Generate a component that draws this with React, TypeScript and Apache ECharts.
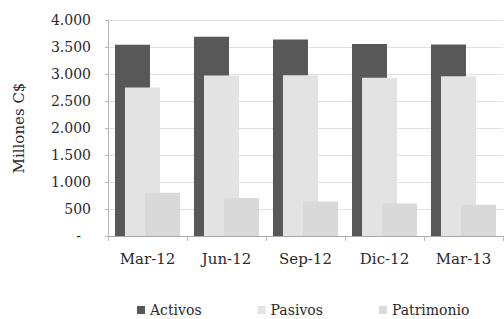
import React, { useEffect, useRef } from "react";
import * as echarts from "echarts";

const categories = ["Mar-12", "Jun-12", "Sep-12", "Dic-12", "Mar-13"];
const activos = [3540, 3690, 3640, 3555, 3545];
const pasivos = [2750, 2970, 2975, 2930, 2960];
const patrimonio = [800, 705, 640, 600, 580];
const yTicks = [0, 500, 1000, 1500, 2000, 2500, 3000, 3500, 4000];

const FONT = "DejaVu Serif";

function fmt(v: number): string {
  if (v === 0) return "{d|-}";
  return v.toString().replace(/\B(?=(\d{3})+(?!\d))/g, ".");
}

export default function App() {
  const ref = useRef<HTMLDivElement>(null);
  useEffect(() => {
    if (!ref.current) return;
    const chart = echarts.init(ref.current, null, { renderer: "svg" });
    chart.setOption({
      animation: false,
      backgroundColor: "#ffffff",
      textStyle: { fontFamily: FONT },
      grid: { left: 108, right: 1, top: 20, bottom: 83, containLabel: false },
      legend: {
        data: ["Activos", "Pasivos", "Patrimonio"],
        left: 137,
        top: 303,
        padding: 0,
        itemWidth: 8,
        itemHeight: 8,
        itemGap: 56,
        icon: "rect",
        textStyle: { fontFamily: FONT, fontSize: 14, color: "#2a2a2a", padding: [0, 0, 0, 0] },
      },
      xAxis: {
        type: "category",
        data: categories,
        axisLine: { show: true, lineStyle: { color: "#aaaaaa", width: 1 } },
        axisTick: { show: true, length: 5, lineStyle: { color: "#bbbbbb" } },
        axisLabel: { fontFamily: FONT, fontSize: 15, color: "#2a2a2a", margin: 15 },
      },
      yAxis: {
        type: "value",
        min: yTicks[0],
        max: yTicks[yTicks.length - 1],
        interval: yTicks[1] - yTicks[0],
        name: "Millones C$",
        nameLocation: "middle",
        nameGap: 82,
        nameRotate: 90,
        nameTextStyle: { fontFamily: FONT, fontSize: 15, color: "#2a2a2a" },
        axisLine: { show: true, lineStyle: { color: "#b5b5b5" } },
        axisTick: { show: true, length: 3, lineStyle: { color: "#b5b5b5" } },
        splitLine: { show: true, lineStyle: { color: "#e2e2e2", width: 1 } },
        axisLabel: {
          fontFamily: FONT,
          fontSize: 14,
          color: "#2a2a2a",
          margin: 17,
          formatter: fmt,
          rich: { d: { fontFamily: FONT, fontSize: 14, color: "#2a2a2a", padding: [0, 10, 0, 0] } },
        },
      },
      series: [
        {
          name: "Activos",
          type: "bar",
          data: activos,
          barWidth: 35,
          barGap: "-71.4%",
          itemStyle: { color: "#585858" },
        },
        {
          name: "Pasivos",
          type: "bar",
          data: pasivos,
          barWidth: 35,
          barGap: "-71.4%",
          itemStyle: { color: "#e3e3e3" },
        },
        {
          name: "_spacer",
          type: "bar",
          data: categories.map(() => null),
          barWidth: 35,
          barGap: "-71.4%",
        },
        {
          name: "Patrimonio",
          type: "bar",
          data: patrimonio,
          barWidth: 35,
          barGap: "-71.4%",
          itemStyle: { color: "#d9d9d9" },
        },
      ],
    });
    return () => chart.dispose();
  }, []);
  return (
    <div
      ref={ref}
      style={{ position: "fixed", left: 0, top: 0, width: 504, height: 319 }}
    />
  );
}
